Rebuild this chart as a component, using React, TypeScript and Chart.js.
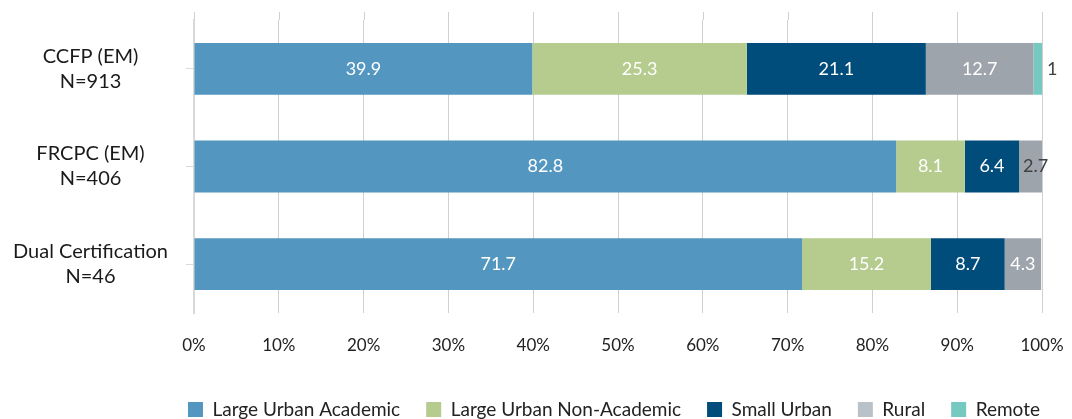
import React, { useEffect, useRef } from "react";
import { Chart, registerables } from "chart.js";

Chart.register(...registerables);

const categories: string[][] = [
  ["CCFP (EM)", "N=913"],
  ["FRCPC (EM)", "N=406"],
  ["Dual Certification", "N=46"],
];
const seriesNames = ["Large Urban Academic", "Large Urban Non-Academic", "Small Urban", "Rural", "Remote"];
const largeUrbanAcademic = [39.9, 82.8, 71.7];
const largeUrbanNonAcademic = [25.3, 8.1, 15.2];
const smallUrban = [21.1, 6.4, 8.7];
const rural = [12.7, 2.7, 4.3];
const remote = [1, 0, 0];
const xMin = 0;
const xMax = 100;
const xStep = 10;

const barColors = ["#5396C0", "#B5CC8E", "#004C7A", "#9DA4AB", "#75C9C0"];
const legendColors = ["#5396C0", "#B5CC8E", "#004C7A", "#BAC2C9", "#75C9C0"];
const FONT = "Lato, 'Open Sans', sans-serif";

const valueLabels = {
  id: "valueLabels",
  afterDatasetsDraw(chart: any) {
    const ctx = chart.ctx;
    ctx.save();
    ctx.font = `18px ${FONT}`;
    ctx.textBaseline = "middle";
    chart.data.datasets.forEach((ds: any, i: number) => {
      const meta = chart.getDatasetMeta(i);
      meta.data.forEach((bar: any, j: number) => {
        const v = ds.data[j];
        if (!v) return;
        const p = bar.getProps(["x", "y", "base"], true);
        const w = Math.abs(p.x - p.base);
        if (w < 15) {
          ctx.textAlign = "left";
          ctx.fillStyle = "#404040";
          ctx.fillText(String(v), Math.max(p.x, p.base) + 5, p.y);
        } else if (w < 30) {
          ctx.textAlign = "center";
          ctx.fillStyle = "#404040";
          ctx.fillText(String(v), (p.x + p.base) / 2 + 5, p.y);
        } else {
          ctx.textAlign = "center";
          ctx.fillStyle = "#ffffff";
          ctx.fillText(String(v), (p.x + p.base) / 2, p.y);
        }
      });
    });
    ctx.restore();
  },
};

const gridExtend = {
  id: "gridExtend",
  afterDraw(chart: any) {
    const ctx = chart.ctx;
    const xs = chart.scales.x;
    const top = chart.chartArea.top;
    ctx.save();
    ctx.strokeStyle = "#D0D0D0";
    ctx.lineWidth = 1;
    xs.ticks.forEach((t: any, i: number) => {
      const px = Math.round(xs.getPixelForTick(i)) + 0.5;
      ctx.beginPath();
      ctx.moveTo(px, top - 8);
      ctx.lineTo(px, top);
      ctx.stroke();
    });
    ctx.restore();
  },
};

export default function App() {
  const ref = useRef<HTMLCanvasElement | null>(null);
  useEffect(() => {
    if (!ref.current) return;
    const seriesData = [largeUrbanAcademic, largeUrbanNonAcademic, smallUrban, rural, remote];
    const chart = new Chart(ref.current, {
      type: "bar",
      data: {
        labels: categories,
        datasets: seriesNames.map((name, i) => ({
          label: name,
          data: seriesData[i],
          backgroundColor: barColors[i],
          borderWidth: 0,
          barPercentage: 0.53,
          categoryPercentage: 1,
        })),
      },
      options: {
        indexAxis: "y",
        animation: false,
        responsive: true,
        maintainAspectRatio: false,
        layout: { padding: { top: 20, right: 6, bottom: -10, left: 12 } },
        scales: {
          x: {
            stacked: true,
            min: xMin,
            max: xMax,
            border: { display: false },
            grid: { color: "#D0D0D0", lineWidth: 1, drawTicks: false },
            ticks: {
              stepSize: xStep,
              padding: 22,
              color: "#222",
              font: { family: FONT, size: 17 },
              callback: (v: any) => `${v}%`,
            },
            afterFit: (s: any) => {
              s.height = 61;
              s.paddingLeft = 0;
              s.paddingRight = 30;
            },
          },
          y: {
            stacked: true,
            border: { display: true, color: "#D9D9D9", width: 2 },
            grid: { drawOnChartArea: false, drawTicks: true, tickLength: 8, color: "#D9D9D9", offset: false },
            ticks: {
              crossAlign: "center",
              padding: 18,
              color: "#1a1a1a",
              font: { family: FONT, size: 20, lineHeight: 1.25 },
            },
            afterFit: (s: any) => {
              s.width = 182;
              s.paddingTop = 0;
              s.paddingBottom = 0;
            },
          },
        },
        plugins: {
          legend: {
            position: "bottom",
            align: "end",
            labels: {
              boxWidth: 15,
              boxHeight: 15,
              padding: 26,
              color: "#222",
              font: { family: FONT, size: 19 },
              generateLabels: (c: any) => {
                const items = Chart.defaults.plugins.legend.labels.generateLabels(c);
                return items.map((it: any, i: number) => ({
                  ...it,
                  fillStyle: legendColors[i],
                  strokeStyle: legendColors[i],
                  lineWidth: 0,
                }));
              },
            },
          },
          tooltip: { enabled: false },
        },
      },
      plugins: [valueLabels, gridExtend],
    });
    return () => chart.destroy();
  }, []);
  return (
    <div style={{ position: "fixed", left: 0, top: 0, width: 1072, height: 419, background: "#fff" }}>
      <canvas ref={ref} />
    </div>
  );
}
